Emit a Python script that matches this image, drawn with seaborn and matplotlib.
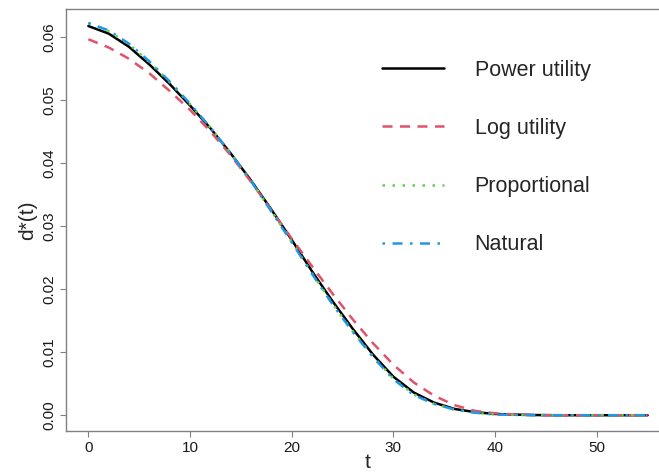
import numpy as np
import pandas as pd
import matplotlib
matplotlib.use("Agg")
import matplotlib.pyplot as plt
import seaborn as sns

# time grid
t = [0, 2, 4, 6, 8, 10, 12, 14, 16, 18, 20, 22, 24, 26, 28, 30, 32, 34,
     36, 38, 40, 42, 44, 46, 48, 50, 52, 54, 55]

power_utility = [0.0617, 0.0605, 0.0584, 0.0556, 0.0525, 0.0491, 0.0455, 0.0415,
                 0.0372, 0.0326, 0.0278, 0.0228, 0.0181, 0.0137, 0.0096, 0.0061,
                 0.0036, 0.0020, 0.0010, 0.0005, 0.0002, 0.0001, 0.00003, 0.0,
                 0.0, 0.0, 0.0, 0.0, 0.0]
log_utility = [0.0596, 0.0583, 0.0565, 0.0542, 0.0514, 0.0484, 0.0450, 0.0412,
               0.0370, 0.0325, 0.0280, 0.0236, 0.0193, 0.0152, 0.0114, 0.0080,
               0.0052, 0.0031, 0.0016, 0.0007, 0.0003, 0.0001, 0.00003, 0.0,
               0.0, 0.0, 0.0, 0.0, 0.0]
proportional = [0.0621, 0.0609, 0.0588, 0.0560, 0.0528, 0.0493, 0.0456, 0.0415,
                0.0371, 0.0324, 0.0275, 0.0225, 0.0177, 0.0133, 0.0093, 0.0058,
                0.0033, 0.0018, 0.0009, 0.0004, 0.0001, 0.00005, 0.0, 0.0,
                0.0, 0.0, 0.0, 0.0, 0.0]
natural = [0.0622, 0.0610, 0.0589, 0.0561, 0.0529, 0.0494, 0.0456, 0.0415,
           0.0371, 0.0323, 0.0274, 0.0224, 0.0176, 0.0132, 0.0092, 0.0057,
           0.0032, 0.0018, 0.0009, 0.0004, 0.0001, 0.00005, 0.0, 0.0,
           0.0, 0.0, 0.0, 0.0, 0.0]

labels = ["Power utility", "Log utility", "Proportional", "Natural"]
colors = {"Power utility": "black", "Log utility": "#DF536B",
          "Proportional": "#61D04F", "Natural": "#2297E6"}
dashes = {"Power utility": "", "Log utility": (4, 3),
          "Proportional": (1, 3), "Natural": (1, 3, 4, 3)}

df = pd.DataFrame({
    "t": t * 4,
    "d": power_utility + log_utility + proportional + natural,
    "method": sum([[m] * len(t) for m in labels], []),
})

sns.set_style("white")
plt.rcParams["font.family"] = ["Liberation Sans", "DejaVu Sans"]

W, H = 659, 473
fig = plt.figure(figsize=(W / 100, H / 100), dpi=100)
ax = fig.add_axes([66 / W, 1 - 431 / H, (670 - 66) / W, (431 - 9) / H])

sns.lineplot(data=df, x="t", y="d", hue="method", style="method",
             palette=colors, dashes=dashes, hue_order=labels, style_order=labels,
             linewidth=1.8, ax=ax, legend=False)

ax.set_xlim(-2.2, 57.2)
ax.set_ylim(-0.0025, 0.0644)
ax.set_xticks([0, 10, 20, 30, 40, 50])
ax.set_yticks([0.0, 0.01, 0.02, 0.03, 0.04, 0.05, 0.06])
ax.set_yticklabels(["0.00", "0.01", "0.02", "0.03", "0.04", "0.05", "0.06"],
                   rotation=90, va="center")
ax.tick_params(axis="both", direction="out", length=4.5, width=0.8,
               color="#808080", labelsize=11, labelcolor="#1a1a1a", pad=2.5,
               left=True, bottom=True)
for s in ax.spines.values():
    s.set_visible(True)
    s.set_color("#808080")
    s.set_linewidth(1.0)

ax.set_xlabel("t", fontsize=15, labelpad=-1)
ax.set_ylabel("d*(t)", fontsize=15, labelpad=4)

handles = [plt.Line2D([], [], color=colors[m], linewidth=1.8,
                      linestyle=(0, dashes[m]) if dashes[m] else "-")
           for m in labels]
fig.legend(handles, labels, loc="upper left",
           bbox_to_anchor=(382 / W, 1 - 60 / H), bbox_transform=fig.transFigure,
           frameon=False, fontsize=15.5, handlelength=2.9, handletextpad=1.4,
           labelspacing=1.72, borderpad=0, borderaxespad=0)

fig.savefig("out.png", dpi=100)
